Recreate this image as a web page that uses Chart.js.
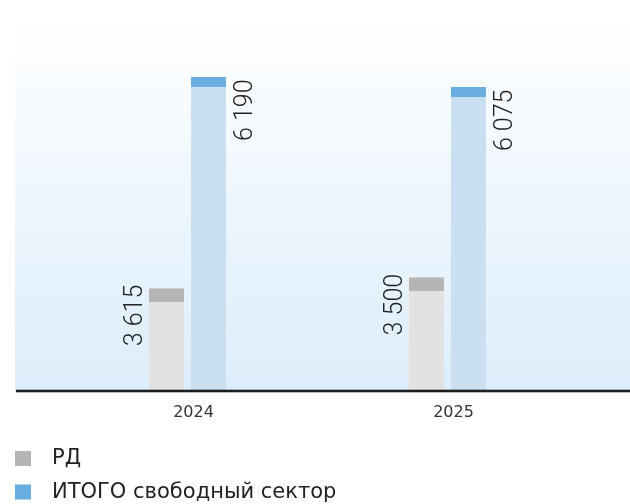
<!DOCTYPE html>
<html>
<head>
<meta charset="utf-8">
<script src="https://cdn.jsdelivr.net/npm/chart.js@4"></script>
<style>
  html, body { margin: 0; padding: 0; background: #ffffff; }
  #wrap { width: 630px; height: 504px; }
</style>
</head>
<body>
<div id="wrap"><canvas id="c" width="630" height="504"></canvas></div>
<script>
// ---- data ----
const years = ['2024', '2025'];
const seriesNames = ['РД', 'ИТОГО свободный сектор'];
// printed values
const rdValues = [3615, 3500];
const totalValues = [6190, 6075];
// bar heights as drawn in the picture (same units as the axis)
const rdBarHeights = [2025, 2240];
const totalBarHeights = [6190, 5990];
const yMax = 7410;

function fmt(n) {
  return String(n).replace(/\B(?=(\d{3})+(?!\d))/g, ' ');
}
const printedValues = [rdValues, totalValues];

const bgPlugin = {
  id: 'bg',
  beforeDatasetsDraw(chart) {
    const ctx = chart.ctx, a = chart.chartArea;
    const top = 15;
    const g = ctx.createLinearGradient(0, top, 0, a.bottom);
    g.addColorStop(0, '#ffffff');
    g.addColorStop(1, '#dcedfb');
    ctx.save();
    ctx.fillStyle = g;
    ctx.fillRect(15, top, chart.width - 15, a.bottom - top);
    ctx.restore();
  },
  afterDatasetsDraw(chart) {
    const ctx = chart.ctx, a = chart.chartArea;
    ctx.save();
    ctx.fillStyle = '#1c1c1c';
    ctx.fillRect(16, a.bottom - 1.3, chart.width - 16, 2.6);
    // rotated value labels
    ctx.font = '300 25px Roboto';
    ctx.fillStyle = '#222222';
    ctx.textAlign = 'right';
    ctx.textBaseline = 'alphabetic';
    chart.data.datasets.forEach((ds, i) => {
      const meta = chart.getDatasetMeta(i);
      meta.data.forEach((bar, j) => {
        const left = bar.x - bar.width / 2;
        const right = bar.x + bar.width / 2;
        let bx, by;
        if (i === 0) { bx = left - 7.5; by = bar.y - 3.5; }
        else { bx = right + 26; by = bar.y + 2.5; }
        ctx.save();
        ctx.translate(bx, by);
        ctx.rotate(-Math.PI / 2);
        ctx.fillText(fmt(printedValues[i][j]), 0, 0);
        ctx.restore();
      });
    });
    ctx.restore();
  },
  afterDraw(chart) {
    const ctx = chart.ctx;
    ctx.save();
    ctx.font = '21px "DejaVu Sans"';
    ctx.textAlign = 'left';
    ctx.textBaseline = 'middle';
    chart.data.datasets.forEach((ds, i) => {
      const top = 451 + i * 33.5;
      ctx.fillStyle = ds.borderColor;
      ctx.fillRect(15, top, 16, 15);
      ctx.fillStyle = '#222222';
      ctx.fillText(ds.label, 52, top + 8);
    });
    ctx.restore();
  }
};

new Chart(document.getElementById('c'), {
  type: 'bar',
  data: {
    labels: years,
    datasets: [
      {
        label: seriesNames[0],
        data: rdBarHeights,
        backgroundColor: '#e2e2e2',
        borderColor: '#b5b5b5',
        borderWidth: { top: 14, right: 0, bottom: 0, left: 0 },
        borderSkipped: false,
        categoryPercentage: 0.323,
        barPercentage: 0.8333
      },
      {
        label: seriesNames[1],
        data: totalBarHeights,
        backgroundColor: '#cbdff3',
        borderColor: '#6aaee0',
        borderWidth: { top: 10, right: 0, bottom: 0, left: 0 },
        borderSkipped: false,
        categoryPercentage: 0.323,
        barPercentage: 0.8333
      }
    ]
  },
  options: {
    responsive: false,
    devicePixelRatio: 1,
    animation: false,
    layout: { padding: { top: 15, left: 57.5, right: 52.5, bottom: 69.8 } },
    plugins: {
      legend: { display: false },
      tooltip: { enabled: false }
    },
    scales: {
      x: {
        grid: { display: false, drawTicks: false },
        border: { display: false },
        ticks: {
          font: { family: 'DejaVu Sans', size: 16 },
          color: '#333333',
          padding: 12,
          labelOffset: 6
        }
      },
      y: {
        display: false,
        min: 0,
        max: yMax
      }
    }
  },
  plugins: [bgPlugin]
});
</script>
</body>
</html>
